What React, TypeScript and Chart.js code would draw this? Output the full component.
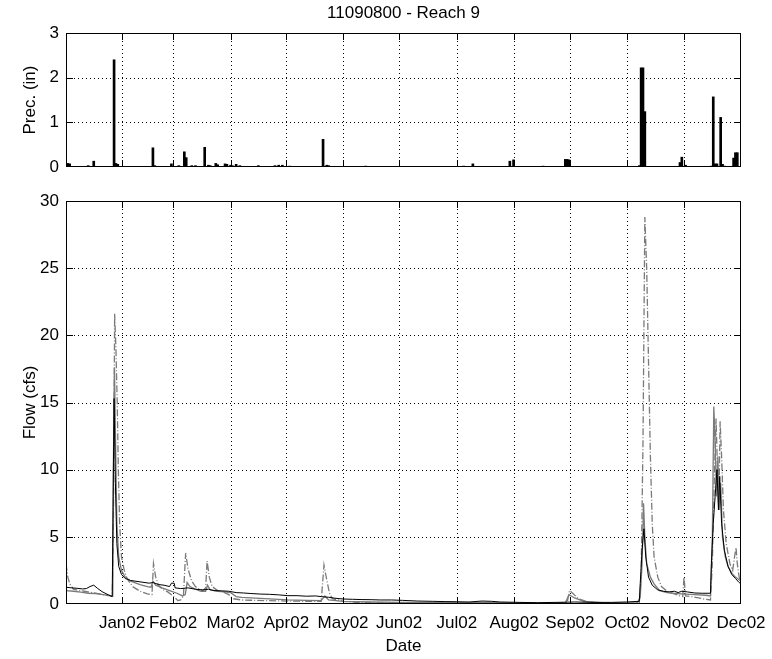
import React, { useEffect, useRef } from "react";
import { Chart, registerables } from "chart.js";

Chart.register(...registerables);

const FONT = "'Liberation Sans', Arial, Helvetica, sans-serif";
Chart.defaults.font.family = FONT;
Chart.defaults.font.size = 17;
Chart.defaults.color = "#000";

const chartTitle = "11090800 - Reach 9";
const xTitle = "Date";
const precTitle = "Prec. (in)";
const flowTitle = "Flow (cfs)";

// x axis: days since 1 Dec 2001
const monthTickDays = [30.3, 57.9, 89, 119.2, 149.8, 180.1, 211.3, 242.3, 272.5, 303.4, 334.2, 365];
const monthTickLabels = ["Jan02", "Feb02", "Mar02", "Apr02", "May02", "Jun02", "Jul02", "Aug02", "Sep02", "Oct02", "Nov02", "Dec02"];

// precipitation (in)
const precipDay = [0, 1, 2, 12, 15, 26, 27, 28, 47, 48, 57, 61, 64, 65, 68, 70, 75, 77, 78, 81, 82, 86, 87, 89, 90, 92, 94, 104, 113, 115, 117, 121, 139, 141, 142, 162, 215, 220, 240, 242, 258, 270, 271, 272, 310, 311, 312, 313, 332, 333, 335, 349, 350, 351, 352, 354, 355, 356, 361, 362, 363];
const precipIn = [0.08, 0.08, 0.07, 0.03, 0.13, 2.4, 0.08, 0.06, 0.43, 0.03, 0.07, 0.03, 0.34, 0.21, 0.03, 0.03, 0.44, 0.04, 0.03, 0.08, 0.05, 0.07, 0.06, 0.04, 0.03, 0.06, 0.03, 0.03, 0.03, 0.04, 0.04, 0.02, 0.62, 0.04, 0.03, 0.02, 0.02, 0.07, 0.13, 0.16, 0.02, 0.17, 0.17, 0.16, 0.03, 2.22, 2.22, 1.24, 0.1, 0.22, 0.04, 0.02, 1.57, 0.07, 0.07, 1.11, 0.06, 0.02, 0.2, 0.32, 0.32];

// flow series (cfs)
const obsDay = [0, 3, 6, 9, 11, 13, 15, 17, 19.5, 23, 25, 25.5, 26, 26.7, 27.5, 28.5, 30, 32, 35, 40, 45, 47, 50, 53, 56, 57, 58.5, 59, 62, 66, 70, 74, 77, 80, 84, 88, 92, 96, 100, 105, 110, 115, 120, 125, 130, 135, 138, 142, 146, 150, 155, 160, 165, 170, 176, 182, 190, 198, 205, 211, 218, 225, 230, 235, 245, 255, 265, 275, 285, 295, 303, 310, 310.5, 311.5, 312.5, 313.5, 315, 317, 320, 323, 326, 329, 331, 333, 336, 340, 344, 348.5, 349, 350, 351, 352, 352.8, 353.5, 354.5, 356, 358, 360, 362, 364, 365];
const obsFlow = [1.25, 1.2, 1.17, 1.12, 1.15, 1.3, 1.4, 1.17, 0.92, 0.67, 0.55, 8, 15.3, 9, 4.5, 2.8, 2.2, 1.9, 1.75, 1.65, 1.55, 1.6, 1.45, 1.4, 1.3, 1.55, 1.55, 1.2, 1.15, 1.2, 1.1, 1.05, 1.1, 1.0, 0.98, 0.95, 0.85, 0.82, 0.78, 0.74, 0.72, 0.68, 0.62, 0.62, 0.58, 0.6, 0.55, 0.5, 0.42, 0.37, 0.35, 0.33, 0.32, 0.3, 0.3, 0.27, 0.22, 0.2, 0.18, 0.17, 0.15, 0.22, 0.2, 0.15, 0.12, 0.1, 0.12, 0.15, 0.12, 0.12, 0.15, 0.2, 1.5, 4, 5.6, 3.5, 2, 1.4, 1.05, 0.95, 0.9, 0.95, 0.85, 0.95, 0.9, 0.82, 0.8, 0.8, 3, 6, 8, 10, 7, 9.5, 6, 4, 2.8, 2.2, 1.9, 1.6, 1.5];

const simDay = [0, 4, 8, 12, 16, 20, 24, 25.3, 25.6, 26.2, 26.8, 27.5, 28.5, 30, 32, 35, 40, 44, 46, 47, 48.5, 52, 56, 60, 63, 64.5, 65.5, 67, 70, 73, 75.5, 76.5, 78, 82, 86, 89, 92, 95, 100, 110, 120, 130, 138, 140, 142, 150, 165, 180, 200, 215, 225, 240, 255, 270, 272, 275, 280, 290, 300, 309, 310.5, 311.5, 312.3, 313, 314, 316, 318, 321, 325, 328, 333, 340, 346, 348.5, 349.5, 350.3, 351, 351.8, 352.5, 353.2, 354, 355, 356.5, 358, 360, 362, 364, 365];
const simFlow = [1.0, 0.95, 0.88, 0.8, 0.78, 0.7, 0.62, 0.6, 10, 17.6, 12, 6, 3.5, 2.5, 2.0, 1.7, 1.45, 1.3, 1.25, 1.7, 1.4, 1.2, 1.0, 0.8, 0.6, 0.7, 1.6, 1.3, 1.1, 0.95, 0.95, 1.4, 1.05, 0.95, 0.9, 0.85, 0.55, 0.5, 0.45, 0.38, 0.3, 0.27, 0.25, 0.6, 0.3, 0.2, 0.15, 0.12, 0.1, 0.1, 0.12, 0.08, 0.07, 0.07, 0.7, 0.45, 0.2, 0.1, 0.08, 0.1, 0.5, 3, 7.5, 5, 3, 2, 1.5, 1.0, 0.85, 0.8, 0.75, 0.7, 0.65, 0.6, 5, 14.7, 12, 8, 11, 7, 9, 5, 3.5, 2.8, 2.3, 2.0, 1.8, 1.7];

const altDay = [0, 1, 2, 4, 7, 10, 14, 18, 22, 25, 25.6, 26.3, 27, 27.7, 28.3, 29, 30, 31.5, 33, 36, 40, 44, 46.5, 47.3, 48.5, 50, 52, 55, 58, 60.5, 62, 63.5, 64.7, 66, 68, 70, 72, 74, 75.5, 76.3, 77.5, 79, 82, 85, 88, 90, 95, 100, 110, 120, 130, 138, 139.5, 141, 142.5, 144, 150, 160, 180, 200, 230, 260, 271, 272.3, 274, 277, 282, 290, 305, 310, 311, 312, 313, 314, 315, 316, 317, 318, 320, 322, 325, 329, 332, 333.5, 334.2, 335, 338, 342, 346, 348.5, 349.5, 350.5, 351.5, 352.3, 353, 353.7, 354.5, 355.5, 357, 359, 360.5, 361.5, 362.3, 363, 364, 365];
const altFlow = [3.0, 2.0, 1.5, 1.1, 1.0, 0.95, 0.85, 0.75, 0.65, 0.6, 5, 21.6, 19, 15, 10, 6, 3.5, 2.5, 1.9, 1.3, 0.95, 0.75, 0.7, 3.0, 2.0, 1.4, 1.1, 0.9, 0.6, 0.25, 0.3, 0.6, 3.8, 2.6, 1.7, 1.3, 1.1, 1.0, 1.2, 3.2, 2.0, 1.3, 1.0, 0.9, 0.7, 0.4, 0.3, 0.28, 0.25, 0.22, 0.2, 0.2, 2.9, 1.8, 0.8, 0.4, 0.2, 0.1, 0.08, 0.06, 0.05, 0.05, 0.1, 1.0, 0.8, 0.4, 0.15, 0.06, 0.05, 0.08, 2, 12, 28.8, 25, 18, 11, 6, 3.5, 2.0, 1.3, 0.95, 0.75, 0.6, 0.55, 2.0, 0.6, 0.55, 0.45, 0.35, 0.3, 3, 9, 13.8, 10, 7, 13.6, 11, 7, 4.5, 3, 2.5, 3.5, 4.2, 3, 2, 1.6];

const pairs = (xs: number[], ys: number[]) => xs.map((x, i) => ({ x, y: ys[i] }));

function makeFrame(title?: string) {
  const clampX = (a: any, px: number) => Math.min(Math.max(Math.round(px) + 0.5, a.left + 0.5), a.right - 0.5);
  const clampY = (a: any, py: number) => Math.min(Math.max(Math.round(py) + 0.5, a.top + 0.5), a.bottom - 0.5);
  return {
    id: "matlabFrame",
    beforeDatasetsDraw(chart: any) {
      const { ctx, chartArea: a, scales } = chart;
      ctx.save();
      ctx.strokeStyle = "#000";
      ctx.lineWidth = 1;
      ctx.setLineDash([1, 3]);
      ctx.beginPath();
      for (const v of monthTickDays) {
        const px = clampX(a, scales.x.getPixelForValue(v));
        ctx.moveTo(px, a.top);
        ctx.lineTo(px, a.bottom);
      }
      for (const t of scales.y.ticks) {
        const py = clampY(a, scales.y.getPixelForValue(t.value));
        ctx.moveTo(a.left, py);
        ctx.lineTo(a.right, py);
      }
      ctx.stroke();
      ctx.restore();
    },
    afterDatasetsDraw(chart: any) {
      const { ctx, chartArea: a, scales } = chart;
      const tl = 7;
      ctx.save();
      ctx.strokeStyle = "#000";
      ctx.lineWidth = 1;
      ctx.setLineDash([]);
      ctx.strokeRect(a.left + 0.5, a.top + 0.5, a.right - a.left - 1, a.bottom - a.top - 1);
      ctx.beginPath();
      for (const v of monthTickDays) {
        const px = clampX(a, scales.x.getPixelForValue(v));
        ctx.moveTo(px, a.bottom);
        ctx.lineTo(px, a.bottom - tl);
        ctx.moveTo(px, a.top);
        ctx.lineTo(px, a.top + tl);
      }
      for (const t of scales.y.ticks) {
        const py = clampY(a, scales.y.getPixelForValue(t.value));
        ctx.moveTo(a.left, py);
        ctx.lineTo(a.left + tl, py);
        ctx.moveTo(a.right, py);
        ctx.lineTo(a.right - tl, py);
      }
      ctx.stroke();
      if (title) {
        ctx.fillStyle = "#000";
        ctx.font = `17px ${FONT}`;
        ctx.textAlign = "center";
        ctx.textBaseline = "middle";
        ctx.fillText(title, (a.left + a.right) / 2, 13);
      }
      ctx.restore();
    },
  };
}

const TOP_H = 185;
const BOT_H = 474;

export default function App() {
  const topRef = useRef<HTMLCanvasElement | null>(null);
  const botRef = useRef<HTMLCanvasElement | null>(null);

  useEffect(() => {
    const top = new Chart(topRef.current as HTMLCanvasElement, {
      type: "bar",
      data: {
        datasets: [
          {
            label: "Prec.",
            data: pairs(precipDay, precipIn) as any,
            backgroundColor: "#000",
            borderWidth: 0,
            barThickness: 2,
          },
        ],
      },
      options: {
        animation: false,
        responsive: false,
        devicePixelRatio: 1,
        layout: { padding: { left: 0, right: 31, top: 33, bottom: 0 } },
        plugins: { legend: { display: false }, tooltip: { enabled: false }, title: { display: false } },
        scales: {
          x: {
            type: "linear",
            min: 0,
            max: 365,
            offset: false,
            grid: { display: false, drawTicks: false },
            border: { display: false },
            ticks: { display: false },
            afterFit: (s: any) => {
              s.height = 18;
              s.paddingLeft = 0;
              s.paddingRight = 0;
            },
          },
          y: {
            min: 0,
            max: 3,
            grid: { display: false, drawTicks: false },
            border: { display: false },
            ticks: { stepSize: 1, padding: 7, color: "#000", font: { size: 17 } },
            title: { display: true, text: precTitle, color: "#000", font: { size: 17 }, padding: { top: 20, bottom: 0 } },
            afterFit: (s: any) => {
              s.width = 66;
              s.paddingTop = 0;
              s.paddingBottom = 0;
            },
          },
        },
      } as any,
      plugins: [makeFrame(chartTitle)],
    });

    const lineBase = { pointRadius: 0, fill: false, tension: 0 };
    const bot = new Chart(botRef.current as HTMLCanvasElement, {
      type: "line",
      data: {
        datasets: [
          { label: "Observed", data: pairs(obsDay, obsFlow) as any, borderColor: "#000", borderWidth: 1, ...lineBase },
          { label: "Simulated", data: pairs(simDay, simFlow) as any, borderColor: "#7a7a7a", borderWidth: 1.3, ...lineBase },
          { label: "Simulated 2", data: pairs(altDay, altFlow) as any, borderColor: "#7a7a7a", borderWidth: 1.3, borderDash: [7, 2, 1, 2], ...lineBase },
        ],
      },
      options: {
        animation: false,
        responsive: false,
        devicePixelRatio: 1,
        layout: { padding: { left: 0, right: 31, top: 16, bottom: 0 } },
        plugins: { legend: { display: false }, tooltip: { enabled: false } },
        scales: {
          x: {
            type: "linear",
            min: 0,
            max: 365,
            offset: false,
            grid: { display: false, drawTicks: false },
            border: { display: false },
            afterBuildTicks: (s: any) => {
              s.ticks = monthTickDays.map((v) => ({ value: v }));
            },
            ticks: {
              autoSkip: false,
              maxRotation: 0,
              minRotation: 0,
              padding: 9,
              color: "#000",
              font: { size: 17 },
              callback: (_v: any, i: number) => monthTickLabels[i],
            },
            title: { display: true, text: xTitle, color: "#000", font: { size: 17 }, padding: { top: 0, bottom: 2 } },
            afterFit: (s: any) => {
              s.height = 55;
              s.paddingLeft = 0;
              s.paddingRight = 0;
            },
          },
          y: {
            min: 0,
            max: 30,
            grid: { display: false, drawTicks: false },
            border: { display: false },
            ticks: { stepSize: 5, padding: 7, color: "#000", font: { size: 17 } },
            title: { display: true, text: flowTitle, color: "#000", font: { size: 17 }, padding: { top: 20, bottom: 0 } },
            afterFit: (s: any) => {
              s.width = 66;
              s.paddingTop = 0;
              s.paddingBottom = 0;
            },
          },
        },
      } as any,
      plugins: [makeFrame()],
    });

    return () => {
      top.destroy();
      bot.destroy();
    };
  }, []);

  return (
    <div style={{ position: "absolute", left: 0, top: 0, width: 772, height: 659, background: "#fff" }}>
      <canvas ref={topRef} width={772} height={TOP_H} style={{ position: "absolute", left: 0, top: 0, width: 772, height: TOP_H, display: "block" }} />
      <canvas ref={botRef} width={772} height={BOT_H} style={{ position: "absolute", left: 0, top: TOP_H, width: 772, height: BOT_H, display: "block" }} />
    </div>
  );
}
